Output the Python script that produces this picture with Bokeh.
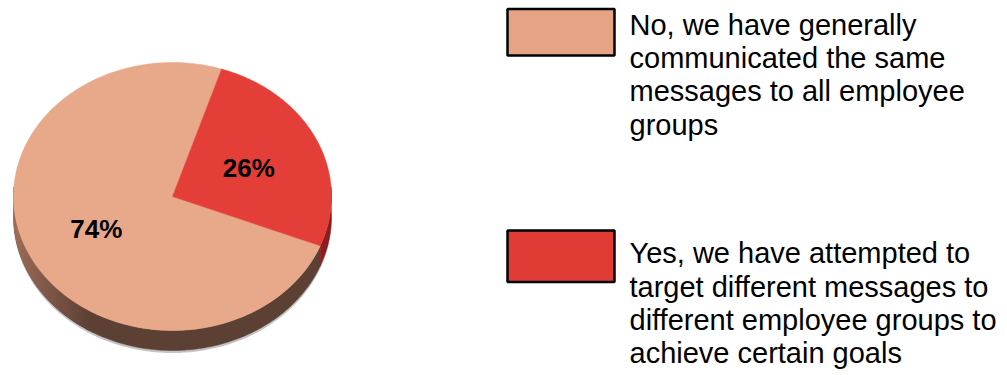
import numpy as np
from bokeh.plotting import figure
from bokeh.models import Range1d
from bokeh.core.properties import value
from bokeh.embed import file_html
from bokeh.resources import INLINE

# ---- data ----
categories = ["No", "Yes"]
values = [74, 26]
pct_labels = ["74%", "26%"]
legend_lines = [
    ["No, we have generally", "communicated the same", "messages to all employee", "groups"],
    ["Yes, we have attempted to", "target different messages to", "different employee groups to", "achieve certain goals"],
]
top_colors = ["#E8A88A", "#E33F38"]
side_colors = ["#5C4034", "#8B1E1E"]
legend_colors = ["#E6A385", "#E03B34"]

# ---- layout / style constants ----
W, H = 1007, 375
CX, CY, RX, RY, DEPTH = 172.0, 196.0, 159.0, 134.0, 20.0
START_DEG = 72.0
LABEL_FRAC = 0.53

p = figure(width=W, height=H, x_range=Range1d(0, W), y_range=Range1d(H, 0),
           output_backend="svg", toolbar_location=None,
           x_axis_location=None, y_axis_location=None, min_border=0)
p.grid.visible = False
p.outline_line_color = None
p.background_fill_color = "white"
p.border_fill_color = "white"


def ept(theta_deg, dy=0.0):
    t = np.radians(theta_deg)
    return CX + RX * np.cos(t), CY - RY * np.sin(t) + dy


vals = np.array(values, dtype=float)
spans = vals / vals.sum() * 360.0
starts = START_DEG + np.concatenate([[0.0], np.cumsum(spans)[:-1]])
ends = starts + spans

# soft shadow under the side
th = np.linspace(175, 365, 200)
sx, sy = ept(th, DEPTH + 2.5)
tx, ty = ept(th[::-1], 0)
p.patch(np.concatenate([sx, tx]), np.concatenate([sy, ty]), fill_color="#8a8a8a",
        fill_alpha=0.5, line_color=None)


def lerp(c1, c2, f):
    a = [int(c1[i:i + 2], 16) for i in (1, 3, 5)]
    b = [int(c2[i:i + 2], 16) for i in (1, 3, 5)]
    return "#%02x%02x%02x" % tuple(int(round(a[k] + (b[k] - a[k]) * f)) for k in range(3))


# solid side band per slice (visible lower half)
for i in range(len(vals)):
    lo = max(starts[i], 176.0)
    hi = min(ends[i], 364.0)
    if hi <= lo:
        continue
    th = np.linspace(lo, hi, 200)
    bx, by = ept(th, DEPTH)
    ux, uy = ept(th[::-1], 0)
    p.patch(np.concatenate([bx, ux]), np.concatenate([by, uy]),
            fill_color=side_colors[i], line_color=side_colors[i], line_width=0.5)

# lighter gradient on the left part of the side
xs_list, ys_list, cols = [], [], []
a = 176.0
step = 1.0
while a < 238.0:
    b = a + step
    mid = (a + b) / 2.0
    f = np.clip((238.0 - mid) / 62.0, 0, 1) ** 0.8
    x1, y1 = ept(a)
    x2, y2 = ept(b + 0.6)
    xs_list.append([x1, x2, x2, x1])
    ys_list.append([y1, y2, y2 + DEPTH, y1 + DEPTH])
    cols.append(lerp(side_colors[0], "#B37B63", f))
    a = b
p.patches(xs_list, ys_list, fill_color=cols, line_color=None)

# top faces
for i in range(len(vals)):
    th = np.linspace(starts[i], ends[i], 240)
    ex, ey = ept(th)
    px = np.concatenate([[CX], ex])
    py = np.concatenate([[CY], ey])
    p.patch(px, py, fill_color=top_colors[i], line_color=top_colors[i], line_width=0.5)

# percentage labels
mids = (starts + ends) / 2.0
lx = CX + LABEL_FRAC * RX * np.cos(np.radians(mids))
ly = CY - LABEL_FRAC * RY * np.sin(np.radians(mids)) + 2
p.text(x=lx, y=ly, text=pct_labels, text_font=value("Liberation Sans"),
       text_font_style="bold", text_font_size="26px", text_align="center",
       text_baseline="middle", text_color="black")

# legend
box_x0, box_x1 = 507, 614
box_tops = [8.5, 230.0]
box_h = [46.5, 51.5]
first_baselines = [37.0, 265.7]
line_gap = 33.4
text_x = 629
BASE_FIX = 13.0
for i in range(len(vals)):
    p.quad(left=[box_x0], right=[box_x1], top=[box_tops[i]], bottom=[box_tops[i] + box_h[i]],
           fill_color=legend_colors[i], line_color="black", line_width=2.5)
    n = len(legend_lines[i])
    ys = [first_baselines[i] + k * line_gap - BASE_FIX for k in range(n)]
    p.text(x=[text_x] * n, y=ys, text=legend_lines[i], text_font=value("Liberation Sans"),
           text_font_size="29px", text_baseline="alphabetic", text_align="left",
           text_color="black")

open("out.html", "w").write(file_html(p, INLINE))
